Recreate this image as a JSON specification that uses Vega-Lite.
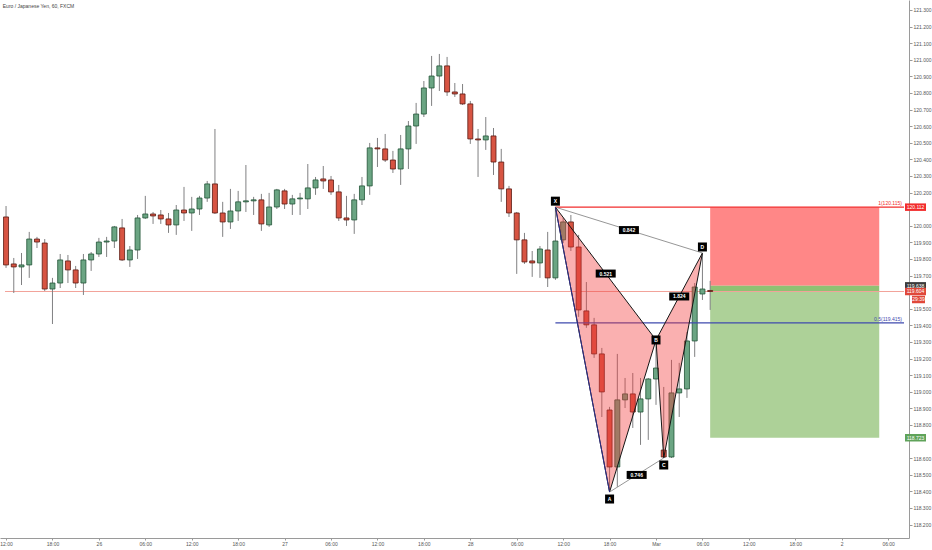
{
  "$schema": "https://vega.github.io/schema/vega-lite/v6.json",
  "width": 909,
  "height": 538,
  "autosize": "none",
  "padding": {"left": 0, "top": 0, "right": 23, "bottom": 12},
  "background": "white",
  "config": {
    "view": {"stroke": null},
    "font": "Liberation Sans",
    "axis": {
      "labelFont": "Liberation Sans",
      "labelFontSize": 5,
      "labelColor": "#555555",
      "domainColor": "#9a9a9a",
      "tickColor": "#9a9a9a",
      "tickSize": 2,
      "grid": false,
      "labelOverlap": false
    },
    "axisY": {"labelOverlap": false, "labelSeparation": 0},
    "axisX": {"labelOverlap": false, "labelFlush": false}
  },
  "title": {
    "text": "Euro / Japanese Yen, 60, FXCM",
    "anchor": "start",
    "fontSize": 5,
    "fontWeight": "normal",
    "color": "#444444",
    "offset": -9,
    "dx": 3
  },
  "resolve": {"scale": {"color": "independent", "fill": "independent"}},
  "datasets": {
    "candles": [
      {"t": "2017-02-25T12:00:00Z", "o": 120.053, "h": 120.119, "l": 119.746, "c": 119.764},
      {"t": "2017-02-25T13:00:00Z", "o": 119.770, "h": 119.806, "l": 119.595, "c": 119.752},
      {"t": "2017-02-25T14:00:00Z", "o": 119.752, "h": 119.836, "l": 119.643, "c": 119.764},
      {"t": "2017-02-25T15:00:00Z", "o": 119.764, "h": 119.963, "l": 119.686, "c": 119.920},
      {"t": "2017-02-25T16:00:00Z", "o": 119.920, "h": 119.933, "l": 119.866, "c": 119.902},
      {"t": "2017-02-25T17:00:00Z", "o": 119.896, "h": 119.920, "l": 119.607, "c": 119.619},
      {"t": "2017-02-25T18:00:00Z", "o": 119.619, "h": 119.686, "l": 119.408, "c": 119.655},
      {"t": "2017-02-25T19:00:00Z", "o": 119.655, "h": 119.830, "l": 119.625, "c": 119.794},
      {"t": "2017-02-25T20:00:00Z", "o": 119.788, "h": 119.824, "l": 119.655, "c": 119.734},
      {"t": "2017-02-25T21:00:00Z", "o": 119.734, "h": 119.758, "l": 119.625, "c": 119.655},
      {"t": "2017-02-25T22:00:00Z", "o": 119.655, "h": 119.830, "l": 119.583, "c": 119.794},
      {"t": "2017-02-25T23:00:00Z", "o": 119.794, "h": 119.842, "l": 119.728, "c": 119.830},
      {"t": "2017-02-26T00:00:00Z", "o": 119.830, "h": 119.927, "l": 119.812, "c": 119.902},
      {"t": "2017-02-26T01:00:00Z", "o": 119.902, "h": 119.933, "l": 119.812, "c": 119.908},
      {"t": "2017-02-26T02:00:00Z", "o": 119.908, "h": 119.999, "l": 119.866, "c": 119.993},
      {"t": "2017-02-26T03:00:00Z", "o": 119.987, "h": 120.041, "l": 119.788, "c": 119.794},
      {"t": "2017-02-26T04:00:00Z", "o": 119.794, "h": 119.878, "l": 119.752, "c": 119.854},
      {"t": "2017-02-26T05:00:00Z", "o": 119.854, "h": 120.065, "l": 119.800, "c": 120.047},
      {"t": "2017-02-26T06:00:00Z", "o": 120.047, "h": 120.180, "l": 120.041, "c": 120.071},
      {"t": "2017-02-26T07:00:00Z", "o": 120.071, "h": 120.083, "l": 120.011, "c": 120.059},
      {"t": "2017-02-26T08:00:00Z", "o": 120.065, "h": 120.095, "l": 120.011, "c": 120.041},
      {"t": "2017-02-26T09:00:00Z", "o": 120.041, "h": 120.077, "l": 119.957, "c": 120.005},
      {"t": "2017-02-26T10:00:00Z", "o": 120.005, "h": 120.125, "l": 119.945, "c": 120.095},
      {"t": "2017-02-26T11:00:00Z", "o": 120.095, "h": 120.234, "l": 120.029, "c": 120.077},
      {"t": "2017-02-26T12:00:00Z", "o": 120.077, "h": 120.174, "l": 119.969, "c": 120.101},
      {"t": "2017-02-26T13:00:00Z", "o": 120.101, "h": 120.180, "l": 120.065, "c": 120.167},
      {"t": "2017-02-26T14:00:00Z", "o": 120.167, "h": 120.270, "l": 120.144, "c": 120.252},
      {"t": "2017-02-26T15:00:00Z", "o": 120.252, "h": 120.583, "l": 120.071, "c": 120.077},
      {"t": "2017-02-26T16:00:00Z", "o": 120.077, "h": 120.144, "l": 119.933, "c": 120.023},
      {"t": "2017-02-26T17:00:00Z", "o": 120.023, "h": 120.222, "l": 119.981, "c": 120.089},
      {"t": "2017-02-26T18:00:00Z", "o": 120.089, "h": 120.210, "l": 120.029, "c": 120.144},
      {"t": "2017-02-26T19:00:00Z", "o": 120.144, "h": 120.366, "l": 120.083, "c": 120.150},
      {"t": "2017-02-26T20:00:00Z", "o": 120.150, "h": 120.174, "l": 120.065, "c": 120.156},
      {"t": "2017-02-26T21:00:00Z", "o": 120.156, "h": 120.192, "l": 119.969, "c": 120.011},
      {"t": "2017-02-26T22:00:00Z", "o": 120.005, "h": 120.198, "l": 119.993, "c": 120.113},
      {"t": "2017-02-26T23:00:00Z", "o": 120.113, "h": 120.222, "l": 120.101, "c": 120.216},
      {"t": "2017-02-27T00:00:00Z", "o": 120.210, "h": 120.222, "l": 120.101, "c": 120.131},
      {"t": "2017-02-27T01:00:00Z", "o": 120.131, "h": 120.186, "l": 120.065, "c": 120.162},
      {"t": "2017-02-27T02:00:00Z", "o": 120.162, "h": 120.198, "l": 120.065, "c": 120.167},
      {"t": "2017-02-27T03:00:00Z", "o": 120.162, "h": 120.372, "l": 120.101, "c": 120.228},
      {"t": "2017-02-27T04:00:00Z", "o": 120.228, "h": 120.294, "l": 120.186, "c": 120.276},
      {"t": "2017-02-27T05:00:00Z", "o": 120.282, "h": 120.360, "l": 120.222, "c": 120.270},
      {"t": "2017-02-27T06:00:00Z", "o": 120.276, "h": 120.300, "l": 120.186, "c": 120.204},
      {"t": "2017-02-27T07:00:00Z", "o": 120.204, "h": 120.246, "l": 120.029, "c": 120.047},
      {"t": "2017-02-27T08:00:00Z", "o": 120.047, "h": 120.180, "l": 119.999, "c": 120.035},
      {"t": "2017-02-27T09:00:00Z", "o": 120.035, "h": 120.192, "l": 119.951, "c": 120.156},
      {"t": "2017-02-27T10:00:00Z", "o": 120.156, "h": 120.294, "l": 120.125, "c": 120.240},
      {"t": "2017-02-27T11:00:00Z", "o": 120.240, "h": 120.499, "l": 120.186, "c": 120.469},
      {"t": "2017-02-27T12:00:00Z", "o": 120.469, "h": 120.529, "l": 120.354, "c": 120.463},
      {"t": "2017-02-27T13:00:00Z", "o": 120.463, "h": 120.553, "l": 120.384, "c": 120.396},
      {"t": "2017-02-27T14:00:00Z", "o": 120.396, "h": 120.451, "l": 120.318, "c": 120.342},
      {"t": "2017-02-27T15:00:00Z", "o": 120.342, "h": 120.547, "l": 120.246, "c": 120.463},
      {"t": "2017-02-27T16:00:00Z", "o": 120.463, "h": 120.631, "l": 120.342, "c": 120.601},
      {"t": "2017-02-27T17:00:00Z", "o": 120.601, "h": 120.740, "l": 120.493, "c": 120.673},
      {"t": "2017-02-27T18:00:00Z", "o": 120.673, "h": 120.872, "l": 120.655, "c": 120.830},
      {"t": "2017-02-27T19:00:00Z", "o": 120.830, "h": 121.023, "l": 120.722, "c": 120.902},
      {"t": "2017-02-27T20:00:00Z", "o": 120.902, "h": 121.035, "l": 120.812, "c": 120.963},
      {"t": "2017-02-27T21:00:00Z", "o": 120.963, "h": 121.017, "l": 120.782, "c": 120.806},
      {"t": "2017-02-27T22:00:00Z", "o": 120.806, "h": 120.860, "l": 120.776, "c": 120.794},
      {"t": "2017-02-27T23:00:00Z", "o": 120.794, "h": 120.854, "l": 120.728, "c": 120.734},
      {"t": "2017-02-28T00:00:00Z", "o": 120.734, "h": 120.752, "l": 120.493, "c": 120.523},
      {"t": "2017-02-28T01:00:00Z", "o": 120.523, "h": 120.583, "l": 120.294, "c": 120.517},
      {"t": "2017-02-28T02:00:00Z", "o": 120.517, "h": 120.655, "l": 120.457, "c": 120.541},
      {"t": "2017-02-28T03:00:00Z", "o": 120.541, "h": 120.589, "l": 120.306, "c": 120.384},
      {"t": "2017-02-28T04:00:00Z", "o": 120.384, "h": 120.463, "l": 120.144, "c": 120.222},
      {"t": "2017-02-28T05:00:00Z", "o": 120.222, "h": 120.240, "l": 120.053, "c": 120.077},
      {"t": "2017-02-28T06:00:00Z", "o": 120.077, "h": 120.083, "l": 119.710, "c": 119.915},
      {"t": "2017-02-28T07:00:00Z", "o": 119.915, "h": 119.957, "l": 119.770, "c": 119.782},
      {"t": "2017-02-28T08:00:00Z", "o": 119.788, "h": 119.848, "l": 119.692, "c": 119.776},
      {"t": "2017-02-28T09:00:00Z", "o": 119.776, "h": 119.878, "l": 119.686, "c": 119.860},
      {"t": "2017-02-28T10:00:00Z", "o": 119.854, "h": 119.963, "l": 119.631, "c": 119.686},
      {"t": "2017-02-28T11:00:00Z", "o": 119.686, "h": 120.112, "l": 119.674, "c": 119.908},
      {"t": "2017-02-28T12:00:00Z", "o": 119.915, "h": 120.047, "l": 119.896, "c": 120.023},
      {"t": "2017-02-28T13:00:00Z", "o": 120.023, "h": 120.065, "l": 119.848, "c": 119.872},
      {"t": "2017-02-28T14:00:00Z", "o": 119.872, "h": 119.945, "l": 119.451, "c": 119.493},
      {"t": "2017-02-28T15:00:00Z", "o": 119.487, "h": 119.661, "l": 119.385, "c": 119.403},
      {"t": "2017-02-28T16:00:00Z", "o": 119.403, "h": 119.445, "l": 119.204, "c": 119.228},
      {"t": "2017-02-28T17:00:00Z", "o": 119.228, "h": 119.264, "l": 118.848, "c": 118.999},
      {"t": "2017-02-28T18:00:00Z", "o": 118.890, "h": 118.909, "l": 118.396, "c": 118.547},
      {"t": "2017-02-28T19:00:00Z", "o": 118.547, "h": 119.228, "l": 118.427, "c": 118.951},
      {"t": "2017-02-28T20:00:00Z", "o": 118.951, "h": 119.083, "l": 118.902, "c": 118.987},
      {"t": "2017-02-28T21:00:00Z", "o": 118.987, "h": 119.113, "l": 118.782, "c": 118.878},
      {"t": "2017-02-28T22:00:00Z", "o": 118.878, "h": 119.083, "l": 118.680, "c": 118.957},
      {"t": "2017-02-28T23:00:00Z", "o": 118.957, "h": 119.083, "l": 118.710, "c": 119.077},
      {"t": "2017-03-01T00:00:00Z", "o": 119.077, "h": 119.312, "l": 118.921, "c": 119.143},
      {"t": "2017-03-01T01:00:00Z", "o": 118.649, "h": 119.029, "l": 118.601, "c": 118.607},
      {"t": "2017-03-01T02:00:00Z", "o": 118.607, "h": 119.192, "l": 118.601, "c": 118.993},
      {"t": "2017-03-01T03:00:00Z", "o": 118.993, "h": 119.174, "l": 118.848, "c": 119.017},
      {"t": "2017-03-01T04:00:00Z", "o": 119.017, "h": 119.360, "l": 118.963, "c": 119.306},
      {"t": "2017-03-01T05:00:00Z", "o": 119.306, "h": 119.655, "l": 119.210, "c": 119.631},
      {"t": "2017-03-01T06:00:00Z", "o": 119.589, "h": 119.836, "l": 119.553, "c": 119.619},
      {"t": "2017-03-01T07:00:00Z", "o": 119.610, "h": 119.668, "l": 119.493, "c": 119.604}
    ],
    "zones": [
      {"t": "2017-03-01T07:00:00Z", "t2": "2017-03-02T04:51:00Z", "p": 120.112, "p2": 119.638, "zone": "stop"},
      {"t": "2017-03-01T07:00:00Z", "t2": "2017-03-02T04:51:00Z", "p": 119.638, "p2": 119.604, "zone": "open"},
      {"t": "2017-03-01T07:00:00Z", "t2": "2017-03-02T04:51:00Z", "p": 119.604, "p2": 118.723, "zone": "target"}
    ],
    "levels": [
      {"t": "2017-02-28T11:00:00Z", "t2": "2017-03-02T08:03:00Z", "p": 120.112, "lab": "1(120.115)", "lvl": "1"},
      {"t": "2017-02-28T11:00:00Z", "t2": "2017-03-02T08:03:00Z", "p": 119.415, "lab": "0.5(119.415)", "lvl": "0.5"}
    ],
    "pattern": [
      {"shape": "XAB", "k": 1, "t": "2017-02-28T11:00:00Z", "p": 120.112},
      {"shape": "XAB", "k": 2, "t": "2017-02-28T18:00:00Z", "p": 118.396},
      {"shape": "XAB", "k": 3, "t": "2017-03-01T00:00:00Z", "p": 119.312},
      {"shape": "XAB", "k": 4, "t": "2017-02-28T11:00:00Z", "p": 120.112},
      {"shape": "BCD", "k": 1, "t": "2017-03-01T00:00:00Z", "p": 119.312},
      {"shape": "BCD", "k": 2, "t": "2017-03-01T01:00:00Z", "p": 118.601},
      {"shape": "BCD", "k": 3, "t": "2017-03-01T06:00:00Z", "p": 119.836},
      {"shape": "BCD", "k": 4, "t": "2017-03-01T00:00:00Z", "p": 119.312}
    ],
    "legs": [
      {"leg": "XD", "k": 1, "t": "2017-02-28T11:00:00Z", "p": 120.112},
      {"leg": "XD", "k": 2, "t": "2017-03-01T06:00:00Z", "p": 119.836},
      {"leg": "AC", "k": 1, "t": "2017-02-28T18:00:00Z", "p": 118.396},
      {"leg": "AC", "k": 2, "t": "2017-03-01T01:00:00Z", "p": 118.601},
      {"leg": "XA", "k": 1, "t": "2017-02-28T11:00:00Z", "p": 120.112},
      {"leg": "XA", "k": 2, "t": "2017-02-28T18:00:00Z", "p": 118.396}
    ],
    "points": [
      {"name": "X", "t": "2017-02-28T11:00:00Z", "p": 120.112},
      {"name": "A", "t": "2017-02-28T18:00:00Z", "p": 118.396},
      {"name": "B", "t": "2017-03-01T00:00:00Z", "p": 119.312},
      {"name": "C", "t": "2017-03-01T01:00:00Z", "p": 118.601},
      {"name": "D", "t": "2017-03-01T06:00:00Z", "p": 119.836}
    ],
    "ratios": [
      {"r": "0.842", "t": "2017-02-28T20:30:00Z", "p": 119.974},
      {"r": "0.521", "t": "2017-02-28T17:30:00Z", "p": 119.712},
      {"r": "1.824", "t": "2017-03-01T03:00:00Z", "p": 119.574},
      {"r": "0.746", "t": "2017-02-28T21:30:00Z", "p": 118.499}
    ],
    "tags": [
      {"t": "2017-03-02T08:03:00Z", "p": 120.112, "lab": "120.112", "kind": "stop"},
      {"t": "2017-03-02T08:03:00Z", "p": 119.638, "lab": "119.638", "kind": "entry"},
      {"t": "2017-03-02T08:03:00Z", "p": 119.604, "lab": "119.604", "kind": "last"},
      {"t": "2017-03-02T08:03:00Z", "p": 118.723, "lab": "118.723", "kind": "target"}
    ],
    "last": [
      {"t": "2017-02-25T11:52:00Z", "t2": "2017-03-02T08:03:00Z", "p": 119.604, "lab": "29:39"}
    ]
  },
  "encoding": {
    "x": {
      "field": "t",
      "type": "temporal",
      "scale": {
        "type": "utc",
        "domain": [1488023520000, 1488441780000]
      },
      "axis": {
        "title": null,
        "orient": "bottom",
        "values": [1488024000000, 1488045600000, 1488067200000, 1488088800000, 1488110400000, 1488132000000, 1488153600000, 1488175200000, 1488196800000, 1488218400000, 1488240000000, 1488261600000, 1488283200000, 1488304800000, 1488326400000, 1488348000000, 1488369600000, 1488391200000, 1488412800000, 1488434400000],
        "labelPadding": 1,
        "labelFlush": false,
        "labelOverlap": false,
        "labelBound": false,
        "labelExpr": "utchours(datum.value) == 0 ? (utcdate(datum.value) == 1 ? utcFormat(datum.value, '%b') : utcFormat(datum.value, '%-d')) : utcFormat(datum.value, '%H:%M')"
      }
    },
    "y": {
      "field": "p",
      "type": "quantitative",
      "scale": {"domain": [118.119, 121.36], "nice": false, "zero": false},
      "axis": {
        "title": null,
        "orient": "right",
        "values": [118.2, 118.3, 118.4, 118.5, 118.6, 118.8, 118.9, 119.0, 119.1, 119.2, 119.3, 119.4, 119.5, 119.7, 119.8, 119.9, 120.0, 120.2, 120.3, 120.4, 120.5, 120.6, 120.7, 120.8, 120.9, 121.0, 121.1, 121.2, 121.3],
        "format": ".3f",
        "labelOverlap": false,
        "labelPadding": 1,
        "tickSize": 3
      }
    }
  },
  "layer": [
    {
      "data": {"name": "zones"},
      "mark": {"type": "rect"},
      "encoding": {
        "x2": {"field": "t2"},
        "y2": {"field": "p2"},
        "fill": {
          "field": "zone",
          "type": "nominal",
          "legend": null,
          "scale": {"domain": ["stop", "open", "target"], "range": ["#FF8787", "#8FC173", "#ADD198"]}
        }
      }
    },
    {
      "data": {"name": "last"},
      "mark": {"type": "rule", "color": "#F2A299", "strokeWidth": 1},
      "encoding": {
        "x2": {"field": "t2"}
      }
    },
    {
      "data": {"name": "candles"},
      "mark": {"type": "rule", "color": "#808082", "strokeWidth": 1},
      "encoding": {
        "y": {"field": "l", "type": "quantitative"},
        "y2": {"field": "h"}
      }
    },
    {
      "data": {"name": "candles"},
      "mark": {"type": "bar", "width": 5, "strokeWidth": 0.8},
      "encoding": {
        "y": {"field": "o", "type": "quantitative"},
        "y2": {"field": "c"},
        "fill": {"condition": {"test": "datum.c >= datum.o", "value": "#6BA583"}, "value": "#D75442"},
        "stroke": {"condition": {"test": "datum.c >= datum.o", "value": "#225437"}, "value": "#5B1A13"}
      }
    },
    {
      "data": {"name": "levels"},
      "mark": {"type": "rule", "strokeWidth": 1.3},
      "encoding": {
        "x2": {"field": "t2"},
        "color": {
          "field": "lvl",
          "type": "nominal",
          "legend": null,
          "scale": {"domain": ["1", "0.5"], "range": ["#F22C2C", "#3F4AAE"]}
        }
      }
    },
    {
      "data": {"name": "levels"},
      "mark": {"type": "text", "align": "right", "baseline": "bottom", "dx": -2, "dy": -1, "fontSize": 5},
      "encoding": {
        "x": {"field": "t2", "type": "temporal"},
        "text": {"field": "lab"},
        "color": {
          "field": "lvl",
          "type": "nominal",
          "legend": null,
          "scale": {"domain": ["1", "0.5"], "range": ["#F22C2C", "#3F4AAE"]}
        }
      }
    },
    {
      "data": {"name": "pattern"},
      "mark": {"type": "line", "fill": "#F23A3A", "fillOpacity": 0.4, "stroke": "#151515", "strokeWidth": 1},
      "encoding": {
        "detail": {"field": "shape"},
        "order": {"field": "k"}
      }
    },
    {
      "data": {"name": "legs"},
      "transform": [{"filter": "datum.leg != 'XA'"}],
      "mark": {"type": "line", "color": "#8a8a8a", "strokeWidth": 0.9},
      "encoding": {
        "detail": {"field": "leg"},
        "order": {"field": "k"}
      }
    },
    {
      "data": {"name": "legs"},
      "transform": [{"filter": "datum.leg == 'XA'"}],
      "mark": {"type": "line", "color": "#2E2E8C", "strokeWidth": 1},
      "encoding": {
        "order": {"field": "k"}
      }
    },
    {
      "data": {"name": "ratios"},
      "mark": {"type": "point", "shape": "M-1.25,-0.5H1.25V0.5H-1.25Z", "size": 256, "filled": true, "color": "#000000", "opacity": 1},
      "encoding": {}
    },
    {
      "data": {"name": "ratios"},
      "mark": {"type": "text", "color": "white", "fontSize": 5, "fontWeight": "bold"},
      "encoding": {"text": {"field": "r"}}
    },
    {
      "data": {"name": "points"},
      "transform": [{"filter": "datum.name == 'X' || datum.name == 'D'"}],
      "mark": {"type": "point", "shape": "M-1,-1H1V1H-1Z", "size": 81, "filled": true, "color": "#000000", "opacity": 1, "yOffset": -6},
      "encoding": {}
    },
    {
      "data": {"name": "points"},
      "transform": [{"filter": "datum.name == 'X' || datum.name == 'D'"}],
      "mark": {"type": "text", "color": "white", "fontSize": 5, "fontWeight": "bold", "yOffset": -6},
      "encoding": {"text": {"field": "name"}}
    },
    {
      "data": {"name": "points"},
      "transform": [{"filter": "datum.name == 'A' || datum.name == 'C'"}],
      "mark": {"type": "point", "shape": "M-1,-1H1V1H-1Z", "size": 81, "filled": true, "color": "#000000", "opacity": 1, "yOffset": 7},
      "encoding": {}
    },
    {
      "data": {"name": "points"},
      "transform": [{"filter": "datum.name == 'A' || datum.name == 'C'"}],
      "mark": {"type": "text", "color": "white", "fontSize": 5, "fontWeight": "bold", "yOffset": 7},
      "encoding": {"text": {"field": "name"}}
    },
    {
      "data": {"name": "points"},
      "transform": [{"filter": "datum.name == 'B'"}],
      "mark": {"type": "point", "shape": "M-1,-1H1V1H-1Z", "size": 81, "filled": true, "color": "#000000", "opacity": 1},
      "encoding": {}
    },
    {
      "data": {"name": "points"},
      "transform": [{"filter": "datum.name == 'B'"}],
      "mark": {"type": "text", "color": "white", "fontSize": 5, "fontWeight": "bold"},
      "encoding": {"text": {"field": "name"}}
    },
    {
      "data": {"name": "tags"},
      "mark": {"type": "point", "shape": "M-1.4,-0.5H1.4V0.5H-1.4Z", "size": 225, "filled": true, "opacity": 1, "xOffset": 11.5},
      "encoding": {
        "fill": {
          "field": "kind",
          "type": "nominal",
          "legend": null,
          "scale": {"domain": ["stop", "entry", "last", "target"], "range": ["#F22C2C", "#3C3C3C", "#E0483A", "#5FA35A"]}
        }
      }
    },
    {
      "data": {"name": "tags"},
      "mark": {"type": "text", "color": "white", "fontSize": 5, "xOffset": 11.5},
      "encoding": {
        "text": {"field": "lab"}
      }
    },
    {
      "data": {"name": "last"},
      "mark": {"type": "point", "shape": "M-0.87,-0.5H0.87V0.5H-0.87Z", "size": 225, "filled": true, "opacity": 1, "color": "#E0483A", "xOffset": 14.5, "yOffset": 8},
      "encoding": {
        "x": {"field": "t2", "type": "temporal"}
      }
    },
    {
      "data": {"name": "last"},
      "mark": {"type": "text", "color": "white", "fontSize": 5, "xOffset": 14.5, "yOffset": 8},
      "encoding": {
        "x": {"field": "t2", "type": "temporal"},
        "text": {"field": "lab"}
      }
    }
  ]
}
